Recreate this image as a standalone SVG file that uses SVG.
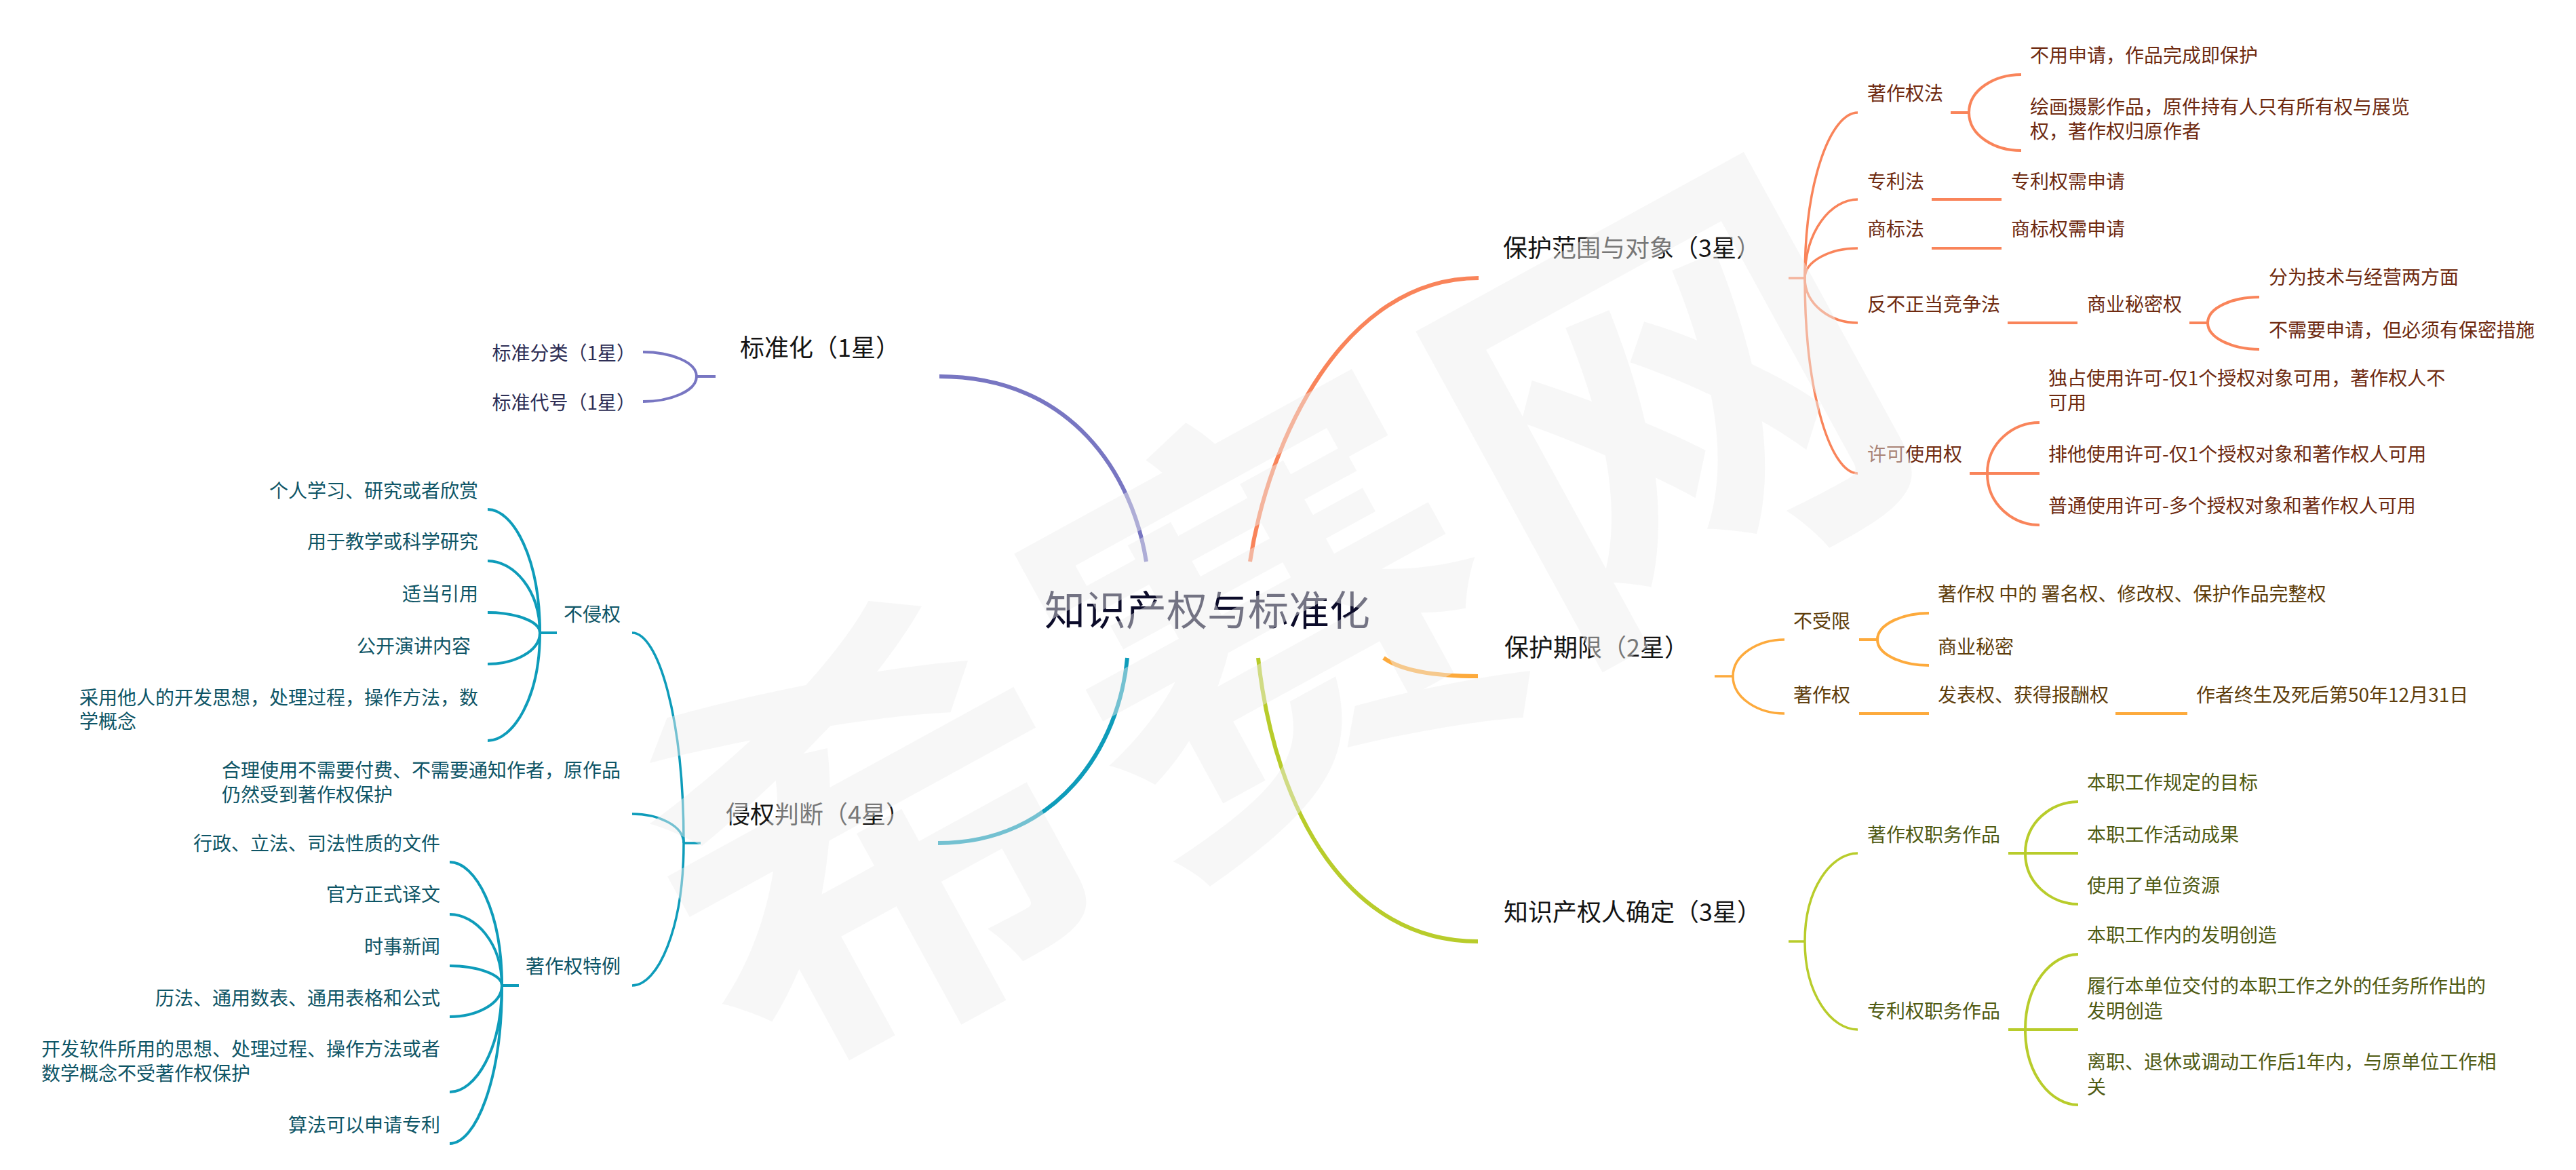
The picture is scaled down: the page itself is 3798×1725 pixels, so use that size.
<svg xmlns="http://www.w3.org/2000/svg" width="3798" height="1725" viewBox="0 0 3798 1725">
<style>
text { font-family: "Noto Sans CJK SC", "Noto Sans", sans-serif; font-size: 28px; }
.m { font-size: 36px; fill: #141414; }
.ctr { font-size: 60px; fill: #0c0c2a; }
.o { fill: #6e2a10; }
.y { fill: #5e3d0a; }
.g { fill: #4f5a12; }
.b { fill: #0e5566; }
.p { fill: #2e2e55; }
.e { text-anchor: end; }
.c { fill: none; stroke-linecap: butt; }
.c1 { stroke-width: 6; }
.c2 { stroke-width: 3.5; }
.c3 { stroke-width: 4; }
.so { stroke: #F9845A; }
.sy { stroke: #FDAA3C; }
.sg { stroke: #B8CC2B; }
.sb { stroke: #0E9CBA; }
.sp { stroke: #7876C2; }
.wm { font-size: 650px; font-weight: 700; fill: #eeeeee; fill-opacity: 0.46; text-anchor: middle; }
</style>
<rect x="0" y="0" width="3798" height="1725" fill="#ffffff"/>

<g id="connectors">
  <!-- main branches -->
  <path class="c c1 sp" d="M1690,828 C1670,700 1580,555 1385,555"/>
  <path class="c c1 so" d="M1843,828 C1870,650 1980,410 2180,410"/>
  <path class="c c1 sy" d="M2040,970 C2065,988 2110,997 2179,997"/>
  <path class="c c1 sg" d="M1855,970 C1880,1200 1990,1388 2179,1388"/>
  <path class="c c1 sb" d="M1662,970 C1650,1100 1560,1243 1383,1243"/>

  <!-- 保护范围与对象 -->
  <path class="c c2 so" d="M2637,410 H2661"/>
  <path class="c c2 so" d="M2661,410 C2661,264 2700,166 2739,166"/>
  <path class="c c2 so" d="M2661,410 C2661,340 2700,294 2739,294"/>
  <path class="c c2 so" d="M2661,410 C2661,384 2700,366 2739,366"/>
  <path class="c c2 so" d="M2661,410 C2661,450 2700,476 2739,476"/>
  <path class="c c2 so" d="M2661,410 C2661,583 2700,698 2739,698"/>
  <path class="c c3 so" d="M2876,166 H2903"/>
  <path class="c c3 so" d="M2903,166 C2903,132 2941,110 2980,110"/>
  <path class="c c3 so" d="M2903,166 C2903,200 2941,222 2980,222"/>
  <path class="c c3 so" d="M2848,294 H2951"/>
  <path class="c c3 so" d="M2848,366 H2951"/>
  <path class="c c3 so" d="M2960,476 H3063"/>
  <path class="c c3 so" d="M3228,476 H3255"/>
  <path class="c c3 so" d="M3255,476 C3255,453 3293,438 3331,438"/>
  <path class="c c3 so" d="M3255,476 C3255,499 3293,515 3331,515"/>
  <path class="c c3 so" d="M2904,698 H2930"/>
  <path class="c c3 so" d="M2930,698 C2930,653 2968,623 3007,623"/>
  <path class="c c3 so" d="M2930,698 H3007"/>
  <path class="c c3 so" d="M2930,698 C2930,744 2968,774 3007,774"/>

  <!-- 保护期限 -->
  <path class="c c2 sy" d="M2528,997 H2555"/>
  <path class="c c2 sy" d="M2555,997 C2555,965 2593,943 2631,943"/>
  <path class="c c2 sy" d="M2555,997 C2555,1030 2593,1052 2631,1052"/>
  <path class="c c3 sy" d="M2741,943 H2768"/>
  <path class="c c3 sy" d="M2768,943 C2768,920 2806,904 2844,904"/>
  <path class="c c3 sy" d="M2768,943 C2768,966 2806,981 2844,981"/>
  <path class="c c3 sy" d="M2741,1052 H2844"/>
  <path class="c c3 sy" d="M3119,1052 H3225"/>

  <!-- 知识产权人确定 -->
  <path class="c c2 sg" d="M2637,1388 H2661"/>
  <path class="c c2 sg" d="M2661,1388 C2661,1310 2700,1258 2739,1258"/>
  <path class="c c2 sg" d="M2661,1388 C2661,1466 2700,1518 2739,1518"/>
  <path class="c c3 sg" d="M2961,1258 H2986"/>
  <path class="c c3 sg" d="M2986,1258 C2986,1212 3025,1182 3064,1182"/>
  <path class="c c3 sg" d="M2986,1258 H3064"/>
  <path class="c c3 sg" d="M2986,1258 C2986,1303 3025,1333 3064,1333"/>
  <path class="c c3 sg" d="M2961,1518 H2986"/>
  <path class="c c3 sg" d="M2986,1518 C2986,1451 3025,1407 3064,1407"/>
  <path class="c c3 sg" d="M2986,1518 H3064"/>
  <path class="c c3 sg" d="M2986,1518 C2986,1585 3025,1629 3064,1629"/>

  <!-- 标准化 -->
  <path class="c c3 sp" d="M1055,555 H1027"/>
  <path class="c c3 sp" d="M1027,555 C1027,533 987,519 948,519"/>
  <path class="c c3 sp" d="M1027,555 C1027,577 987,592 948,592"/>

  <!-- 侵权判断 -->
  <path class="c c2 sb" d="M1033,1243 H1008"/>
  <path class="c c2 sb" d="M1008,1243 C1008,1057 970,933 932,933"/>
  <path class="c c2 sb" d="M1008,1243 C1008,1217 970,1200 932,1200"/>
  <path class="c c2 sb" d="M1008,1243 C1008,1369 970,1453 932,1453"/>
  <path class="c c3 sb" d="M821,933 H796"/>
  <path class="c c3 sb" d="M796,933 C796,824 757,751 719,751"/>
  <path class="c c3 sb" d="M796,933 C796,869 757,827 719,827"/>
  <path class="c c3 sb" d="M796,933 C796,915 757,903 719,903"/>
  <path class="c c3 sb" d="M796,933 C796,961 757,979 719,979"/>
  <path class="c c3 sb" d="M796,933 C796,1028 757,1092 719,1092"/>
  <path class="c c3 sb" d="M765,1453 H740"/>
  <path class="c c3 sb" d="M740,1453 C740,1344 701,1271 663,1271"/>
  <path class="c c3 sb" d="M740,1453 C740,1390 701,1348 663,1348"/>
  <path class="c c3 sb" d="M740,1453 C740,1436 701,1424 663,1424"/>
  <path class="c c3 sb" d="M740,1453 C740,1481 701,1499 663,1499"/>
  <path class="c c3 sb" d="M740,1453 C740,1547 701,1610 663,1610"/>
  <path class="c c3 sb" d="M740,1453 C740,1593 701,1686 663,1686"/>
</g>

<g id="root"><text class="ctr" x="1540" y="922">知识产权与标准化</text></g>

<g id="n-scope"><text class="m" x="2216" y="379">保护范围与对象（3星）</text></g>
<g id="n-copyright-law"><text class="o" x="2753" y="148">著作权法</text></g>
<g id="n-cl-1"><text class="o" x="2993" y="92">不用申请，作品完成即保护</text></g>
<g id="n-cl-2"><text class="o" x="2993" y="168">绘画摄影作品，原件持有人只有所有权与展览</text><text class="o" x="2993" y="204">权，著作权归原作者</text></g>
<g id="n-patent-law"><text class="o" x="2753" y="278">专利法</text></g>
<g id="n-pl-1"><text class="o" x="2965" y="278">专利权需申请</text></g>
<g id="n-tm-law"><text class="o" x="2753" y="348">商标法</text></g>
<g id="n-tm-1"><text class="o" x="2965" y="348">商标权需申请</text></g>
<g id="n-unfair"><text class="o" x="2753" y="459">反不正当竞争法</text></g>
<g id="n-secret"><text class="o" x="3077" y="459">商业秘密权</text></g>
<g id="n-secret-1"><text class="o" x="3345" y="419">分为技术与经营两方面</text></g>
<g id="n-secret-2"><text class="o" x="3345" y="497">不需要申请，但必须有保密措施</text></g>
<g id="n-license"><text class="o" x="2753" y="680">许可使用权</text></g>
<g id="n-lic-1"><text class="o" x="3020" y="568">独占使用许可-仅1个授权对象可用，著作权人不</text><text class="o" x="3020" y="604">可用</text></g>
<g id="n-lic-2"><text class="o" x="3020" y="680">排他使用许可-仅1个授权对象和著作权人可用</text></g>
<g id="n-lic-3"><text class="o" x="3020" y="756">普通使用许可-多个授权对象和著作权人可用</text></g>

<g id="n-term"><text class="m" x="2218" y="968">保护期限（2星）</text></g>
<g id="n-unlimited"><text class="y" x="2644" y="926">不受限</text></g>
<g id="n-unl-1"><text class="y" x="2857" y="886">著作权 中的 署名权、修改权、保护作品完整权</text></g>
<g id="n-unl-2"><text class="y" x="2857" y="964">商业秘密</text></g>
<g id="n-copyright"><text class="y" x="2644" y="1035">著作权</text></g>
<g id="n-cr-1"><text class="y" x="2857" y="1035">发表权、获得报酬权</text></g>
<g id="n-cr-2"><text class="y" x="3238" y="1035">作者终生及死后第50年12月31日</text></g>

<g id="n-owner"><text class="m" x="2217" y="1358">知识产权人确定（3星）</text></g>
<g id="n-cr-work"><text class="g" x="2753" y="1241">著作权职务作品</text></g>
<g id="n-crw-1"><text class="g" x="3077" y="1164">本职工作规定的目标</text></g>
<g id="n-crw-2"><text class="g" x="3077" y="1241">本职工作活动成果</text></g>
<g id="n-crw-3"><text class="g" x="3077" y="1316">使用了单位资源</text></g>
<g id="n-pt-work"><text class="g" x="2753" y="1501">专利权职务作品</text></g>
<g id="n-ptw-1"><text class="g" x="3077" y="1389">本职工作内的发明创造</text></g>
<g id="n-ptw-2"><text class="g" x="3077" y="1464">履行本单位交付的本职工作之外的任务所作出的</text><text class="g" x="3077" y="1501">发明创造</text></g>
<g id="n-ptw-3"><text class="g" x="3077" y="1576">离职、退休或调动工作后1年内，与原单位工作相</text><text class="g" x="3077" y="1613">关</text></g>

<g id="n-std"><text class="m" x="1091" y="526">标准化（1星）</text></g>
<g id="n-std-1"><text class="p e" x="937" y="531">标准分类（1星）</text></g>
<g id="n-std-2"><text class="p e" x="937" y="604">标准代号（1星）</text></g>

<g id="n-infringe"><text class="m" x="1070" y="1214">侵权判断（4星）</text></g>
<g id="n-noinf"><text class="b e" x="915" y="916">不侵权</text></g>
<g id="n-noinf-1"><text class="b e" x="705" y="734">个人学习、研究或者欣赏</text></g>
<g id="n-noinf-2"><text class="b e" x="705" y="809">用于教学或科学研究</text></g>
<g id="n-noinf-3"><text class="b e" x="705" y="886">适当引用</text></g>
<g id="n-noinf-4"><text class="b e" x="694" y="963">公开演讲内容</text></g>
<g id="n-noinf-5"><text class="b" x="117" y="1039">采用他人的开发思想，处理过程，操作方法，数</text><text class="b" x="117" y="1074">学概念</text></g>
<g id="n-fair"><text class="b" x="327" y="1146">合理使用不需要付费、不需要通知作者，原作品</text><text class="b" x="327" y="1182">仍然受到著作权保护</text></g>
<g id="n-except"><text class="b e" x="915" y="1435">著作权特例</text></g>
<g id="n-ex-1"><text class="b e" x="649" y="1254">行政、立法、司法性质的文件</text></g>
<g id="n-ex-2"><text class="b e" x="649" y="1329">官方正式译文</text></g>
<g id="n-ex-3"><text class="b e" x="649" y="1406">时事新闻</text></g>
<g id="n-ex-4"><text class="b e" x="649" y="1482">历法、通用数表、通用表格和公式</text></g>
<g id="n-ex-5"><text class="b" x="61" y="1557">开发软件所用的思想、处理过程、操作方法或者</text><text class="b" x="61" y="1593">数学概念不受著作权保护</text></g>
<g id="n-ex-6"><text class="b e" x="649" y="1669">算法可以申请专利</text></g>

<g id="watermark" transform="rotate(-28.7 1871 914)">
  <text class="wm" x="1202" y="1161">希</text>
  <text class="wm" x="1871" y="1161">赛</text>
  <text class="wm" x="2540" y="1161">网</text>
</g>
</svg>
